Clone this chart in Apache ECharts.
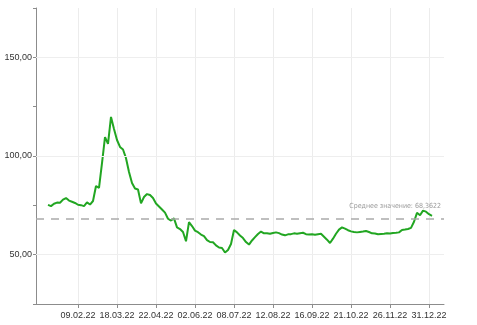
<!DOCTYPE html>
<html><head><meta charset="utf-8">
<script src="https://cdn.jsdelivr.net/npm/echarts@6/dist/echarts.min.js"></script>
<style>html,body{margin:0;padding:0;background:#fff}#c{width:477px;height:325px}</style>
</head><body><div id="c"></div>
<script>
const categories = [
'06.01.22','10.01.22','12.01.22','14.01.22','17.01.22','19.01.22','21.01.22','24.01.22','26.01.22','28.01.22',
'31.01.22','02.02.22','04.02.22','07.02.22','09.02.22','11.02.22','14.02.22','17.02.22','21.02.22','24.02.22',
'28.02.22','02.03.22','04.03.22','07.03.22','10.03.22','12.03.22','15.03.22','18.03.22','21.03.22','23.03.22',
'26.03.22','29.03.22','31.03.22','04.04.22','06.04.22','09.04.22','12.04.22','14.04.22','16.04.22','19.04.22',
'22.04.22','25.04.22','28.04.22','02.05.22','05.05.22','08.05.22','12.05.22','15.05.22','18.05.22','21.05.22',
'24.05.22','27.05.22','30.05.22','02.06.22','04.06.22','07.06.22','10.06.22','13.06.22','16.06.22','18.06.22',
'21.06.22','24.06.22','27.06.22','29.06.22','02.07.22','05.07.22','08.07.22','11.07.22','13.07.22','16.07.22',
'19.07.22','21.07.22','24.07.22','27.07.22','29.07.22','01.08.22','04.08.22','06.08.22','09.08.22','12.08.22',
'15.08.22','17.08.22','20.08.22','23.08.22','25.08.22','28.08.22','31.08.22','02.09.22','05.09.22','08.09.22',
'10.09.22','13.09.22','16.09.22','19.09.22','21.09.22','24.09.22','27.09.22','29.09.22','02.10.22','05.10.22',
'07.10.22','10.10.22','13.10.22','15.10.22','18.10.22','21.10.22','24.10.22','26.10.22','29.10.22','01.11.22',
'04.11.22','07.11.22','10.11.22','12.11.22','15.11.22','18.11.22','21.11.22','23.11.22','26.11.22','29.11.22',
'01.12.22','04.12.22','07.12.22','09.12.22','12.12.22','15.12.22','17.12.22','20.12.22','23.12.22','25.12.22',
'28.12.22','31.12.22','03.01.23','05.01.23','08.01.23','11.01.23','13.01.23'
];
const values = [
'-','-','-','-',75.2,74.6,75.8,76.4,76.3,77.9,
78.7,77.4,76.8,76.2,75.3,75.1,74.6,76.5,75.4,77.2,
84.8,83.9,96.4,109.6,106.1,119.8,113.7,108.1,104.6,103.3,
98.9,91.9,86.3,83.5,83.0,76.0,79.2,80.7,80.2,78.7,
75.9,74.4,72.9,71.3,68.2,67.3,68.4,63.8,63.0,61.5,
56.8,66.5,64.5,62.2,61.4,60.2,59.4,57.4,56.4,56.3,
54.7,53.6,53.4,51.1,52.4,55.4,62.5,61.3,59.7,58.4,
56.4,55.1,57.2,58.9,60.5,61.7,60.8,60.9,60.6,61.0,
61.3,60.9,60.2,59.8,60.3,60.4,60.8,60.6,60.9,61.1,
60.4,60.2,60.4,60.1,60.4,60.6,59.1,57.6,55.9,58.1,
60.6,62.7,63.8,63.2,62.4,61.8,61.5,61.3,61.5,61.7,
62.0,61.5,60.8,60.7,60.4,60.5,60.6,60.8,60.7,61.0,
61.1,61.3,62.5,62.7,63.0,63.6,66.7,71.2,70.0,72.3,
71.8,70.5,69.7,'-','-','-','-'
];
const tickLabels = ['09.02.22','18.03.22','22.04.22','02.06.22','08.07.22','12.08.22','16.09.22','21.10.22','26.11.22','31.12.22'];
const yLabels = [50, 100, 150];
const meanValue = 68.3622;
const meanText = 'Среднее значение: 68,3622';

const isTick = (i) => tickLabels.indexOf(categories[i]) >= 0;
const gridLineStyle = {color: '#eeeeee', width: 1, type: 'solid'};
const FONT = 'Liberation Sans, Arial, sans-serif';

const chart = echarts.init(document.getElementById('c'), null, {renderer: 'canvas'});
chart.setOption({
  animation: false,
  backgroundColor: '#ffffff',
  textStyle: {fontFamily: FONT},
  grid: {left: 36, right: 33, top: 8, bottom: 21, containLabel: false},
  xAxis: {
    type: 'category',
    data: categories,
    boundaryGap: false,
    axisLine: {lineStyle: {color: '#8c8c8c', width: 1}},
    axisTick: {show: true, interval: (i) => isTick(i), length: 4, lineStyle: {color: '#8c8c8c'}},
    axisLabel: {interval: (i) => isTick(i), color: '#333', fontSize: 9, margin: 7, fontFamily: FONT},
    splitLine: {show: true, interval: (i) => isTick(i), lineStyle: {color: '#ececec', width: 1}}
  },
  yAxis: {
    type: 'value',
    min: 25, max: 175, interval: 25,
    axisLine: {show: true, lineStyle: {color: '#8c8c8c', width: 1}},
    axisTick: {show: true, length: 3, lineStyle: {color: '#8c8c8c'}},
    axisLabel: {color: '#333', fontSize: 9, margin: 4, fontFamily: FONT,
      formatter: (v) => yLabels.indexOf(v) >= 0 ? v.toFixed(2).replace('.', ',') : ''},
    splitLine: {show: false}
  },
  series: [{
    type: 'line',
    data: values,
    showSymbol: false,
    symbol: 'none',
    lineStyle: {color: '#22a622', width: 2},
    itemStyle: {color: '#22a622'},
    z: 3,
    markLine: {
      silent: true,
      symbol: ['none', 'none'],
      animation: false,
      data: [
        ...yLabels.map(v => ({yAxis: v, lineStyle: gridLineStyle, label: {show: false}})),
        {yAxis: meanValue,
         lineStyle: {color: '#aaaaaa', width: 1.5, type: [8, 7]},
         label: {show: true, position: 'insideEndTop', formatter: meanText,
                 color: '#9a9a9a', fontSize: 7, distance: [3, 9],
                 fontFamily: 'Liberation Sans Narrow, DejaVu Sans Condensed, Liberation Sans, sans-serif'}}
      ]
    }
  }]
});
</script></body></html>
